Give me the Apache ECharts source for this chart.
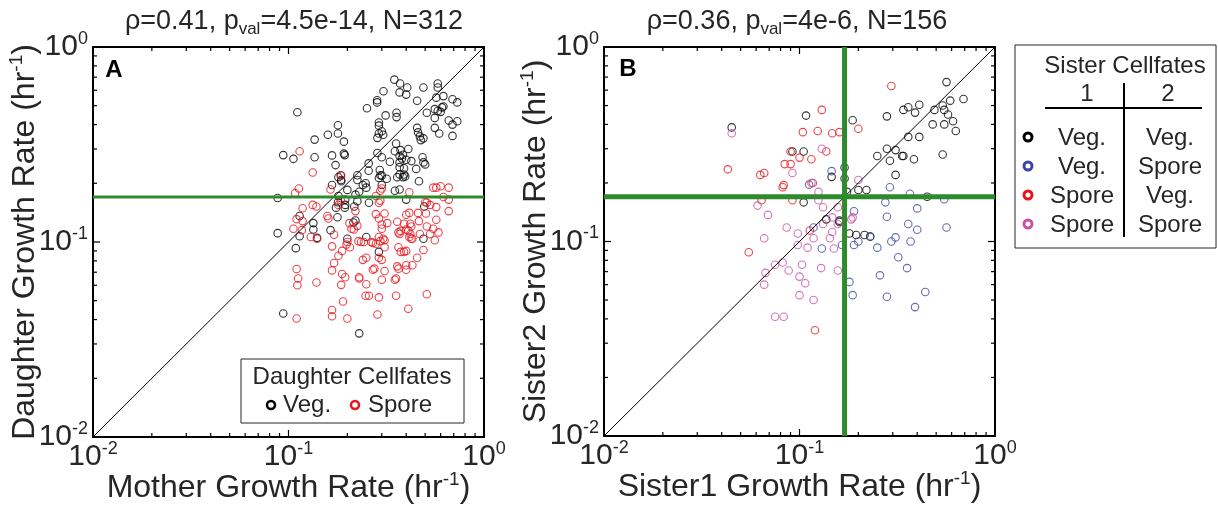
<!DOCTYPE html>
<html>
<head>
<meta charset="utf-8">
<script src="https://cdn.jsdelivr.net/npm/echarts@6/dist/echarts.min.js"></script>
<style>
  html, body { margin: 0; padding: 0; background: #fff; }
  #chart { width: 1218px; height: 507px; }
</style>
</head>
<body>
<div id="chart"></div>
<script>
// axis range (both panels, log10)
const axisMin = 0.01;
const axisMax = 1;
const tickVals = [0.01, 0.02, 0.03, 0.04, 0.05, 0.06, 0.07, 0.08, 0.09,
                  0.1, 0.2, 0.3, 0.4, 0.5, 0.6, 0.7, 0.8, 0.9, 1];

// threshold / reference lines
const thresholdA = 0.17;
const thresholdB = 0.17;
const diagonal = [[0.01, 0.01], [1, 1]];

// panel A: mother vs daughter growth rate
const daughterVeg = [
  [0.111,0.463],[0.094,0.279],[0.106,0.267],[0.136,0.335],[0.136,0.272],[0.159,0.355],[0.179,0.397],[0.179,0.36],
  [0.192,0.327],[0.167,0.278],[0.192,0.284],[0.194,0.279],[0.174,0.248],[0.088,0.168],
  [0.252,0.485],[0.284,0.533],[0.284,0.52],[0.306,0.593],[0.314,0.446],[0.357,0.46],[0.357,0.437],[0.348,0.68],
  [0.372,0.65],[0.405,0.62],[0.37,0.585],[0.40,0.57],[0.49,0.62],[0.455,0.53],[0.58,0.65],[0.58,0.62],[0.62,0.56],
  [0.57,0.55],[0.69,0.54],[0.73,0.52],[0.51,0.46],[0.56,0.48],[0.61,0.49],[0.62,0.495],[0.60,0.465],[0.58,0.47],
  [0.56,0.433],[0.66,0.42],[0.73,0.416],[0.69,0.40],[0.56,0.385],[0.59,0.36],[0.69,0.35],
  [0.29,0.41],[0.29,0.395],[0.30,0.37],[0.29,0.36],[0.285,0.342],[0.305,0.355],[0.455,0.385],[0.46,0.365],
  [0.47,0.348],[0.49,0.34],[0.475,0.333],[0.355,0.32],[0.285,0.286],[0.30,0.272],[0.35,0.292],[0.374,0.296],
  [0.41,0.30],[0.37,0.276],[0.38,0.268],[0.385,0.28],[0.40,0.264],[0.425,0.26],[0.37,0.256],[0.485,0.272],
  [0.49,0.256],[0.50,0.25],[0.33,0.258],[0.257,0.253],[0.257,0.232],[0.293,0.234],[0.318,0.211],[0.37,0.242],
  [0.39,0.239],[0.36,0.215],[0.385,0.215],[0.395,0.217],[0.45,0.237],[0.465,0.205],[0.30,0.219],[0.29,0.213],
  [0.30,0.196],[0.225,0.208],[0.186,0.208],[0.186,0.205],[0.167,0.196],[0.24,0.196],[0.25,0.19],[0.20,0.185],
  [0.23,0.181],[0.22,0.175],[0.35,0.183],[0.37,0.186],[0.40,0.165],[0.195,0.165],[0.18,0.172],[0.179,0.16],
  [0.225,0.162],[0.258,0.159],[0.217,0.152],[0.194,0.15],
  [0.088,0.111],[0.094,0.043],[0.23,0.034],[0.109,0.093],[0.114,0.136],[0.134,0.125],[0.134,0.116],[0.114,0.107],
  [0.14,0.105],[0.164,0.115],[0.178,0.134],[0.195,0.155],[0.175,0.15],[0.225,0.22],[0.22,0.129],[0.215,0.126],
  [0.20,0.104],[0.248,0.20],[0.295,0.22],[0.37,0.222],[0.39,0.222],[0.25,0.106],[0.29,0.089],[0.49,0.104],
  [0.495,0.152],[0.18,0.215],[0.185,0.22]
];
const daughterSpore = [
  [0.114,0.292],[0.133,0.227],[0.113,0.188],[0.108,0.178],[0.186,0.219],[0.164,0.186],[0.295,0.183],[0.30,0.188],
  [0.415,0.18],[0.55,0.19],[0.57,0.19],[0.60,0.193],[0.66,0.19],[0.66,0.165],[0.28,0.172],[0.18,0.155],
  [0.118,0.149],[0.133,0.155],[0.139,0.152],[0.11,0.131],[0.106,0.117],[0.118,0.128],[0.117,0.115],[0.13,0.106],
  [0.14,0.104],[0.158,0.136],[0.16,0.132],[0.185,0.164],[0.171,0.109],[0.167,0.095],[0.188,0.09],[0.18,0.085],
  [0.171,0.078],[0.167,0.0715],[0.188,0.0685],[0.195,0.066],[0.186,0.0603],[0.19,0.0495],[0.167,0.0448],
  [0.167,0.0416],[0.20,0.0405],[0.11,0.0727],[0.112,0.065],[0.111,0.06],[0.11,0.0405],[0.139,0.062],
  [0.205,0.125],[0.21,0.117],[0.216,0.116],[0.225,0.121],[0.22,0.144],[0.20,0.10],[0.206,0.094],[0.198,0.097],
  [0.228,0.101],[0.235,0.10],[0.243,0.10],[0.265,0.10],[0.27,0.099],[0.28,0.098],[0.295,0.101],[0.31,0.102],
  [0.31,0.094],[0.24,0.081],[0.25,0.083],[0.29,0.083],[0.30,0.081],[0.27,0.072],[0.275,0.073],[0.31,0.071],
  [0.23,0.066],[0.23,0.065],[0.30,0.064],[0.25,0.0607],[0.248,0.053],[0.258,0.053],[0.29,0.052],[0.285,0.0425],
  [0.35,0.064],[0.355,0.065],[0.355,0.053],[0.41,0.0455],[0.51,0.054],[0.28,0.139],[0.31,0.14],[0.32,0.125],
  [0.30,0.123],[0.29,0.132],[0.295,0.163],[0.29,0.159],[0.30,0.117],[0.29,0.106],[0.305,0.104],[0.36,0.127],
  [0.365,0.112],[0.37,0.11],[0.375,0.114],[0.41,0.114],[0.42,0.11],[0.425,0.104],[0.43,0.104],[0.415,0.106],
  [0.39,0.124],[0.40,0.116],[0.42,0.124],[0.425,0.12],[0.40,0.138],[0.415,0.141],[0.49,0.091],[0.455,0.083],
  [0.43,0.076],[0.40,0.076],[0.40,0.072],[0.365,0.073],[0.36,0.075],[0.365,0.094],[0.375,0.089],[0.39,0.089],
  [0.40,0.09],[0.465,0.128],[0.51,0.12],[0.55,0.117],[0.56,0.102],[0.585,0.112],[0.57,0.13],[0.51,0.159],
  [0.50,0.16],[0.53,0.155],[0.57,0.151],[0.505,0.14],[0.46,0.141],[0.66,0.144],[0.47,0.11],[0.53,0.11],[0.62,0.17]
];

// panel B: sister1 vs sister2 growth rate, by fate pair
const vegVeg = [
  [0.045,0.386],[0.108,0.444],[0.092,0.29],[0.105,0.29],[0.146,0.215],[0.17,0.211],[0.17,0.24],[0.187,0.42],
  [0.28,0.44],[0.34,0.475],[0.36,0.49],[0.39,0.46],[0.41,0.505],[0.49,0.475],[0.54,0.50],[0.55,0.475],[0.59,0.53],
  [0.575,0.45],[0.61,0.415],[0.63,0.37],[0.55,0.40],[0.48,0.40],[0.565,0.66],[0.69,0.54],[0.36,0.345],[0.41,0.345],
  [0.28,0.30],[0.31,0.295],[0.25,0.275],[0.335,0.275],[0.34,0.275],[0.385,0.265],[0.54,0.28],[0.29,0.26],[0.31,0.22],
  [0.20,0.184],[0.22,0.184],[0.105,0.159],[0.45,0.17],[0.137,0.13],[0.16,0.128],[0.16,0.126],[0.18,0.11],
  [0.195,0.108],[0.215,0.108],[0.23,0.106],[0.175,0.18]
];
const vegSpore = [
  [0.146,0.23],[0.112,0.196],[0.29,0.19],[0.367,0.176],[0.55,0.165],[0.275,0.159],[0.40,0.148],[0.19,0.143],
  [0.28,0.134],[0.36,0.123],[0.40,0.115],[0.565,0.118],[0.118,0.118],[0.13,0.092],[0.165,0.096],[0.19,0.096],
  [0.20,0.10],[0.23,0.106],[0.25,0.093],[0.295,0.10],[0.31,0.105],[0.37,0.10],[0.32,0.083],[0.355,0.073],
  [0.258,0.067],[0.18,0.062],[0.187,0.053],[0.28,0.052],[0.44,0.055],[0.39,0.046]
];
const sporeVeg = [
  [0.295,0.63],[0.13,0.475],[0.104,0.365],[0.124,0.37],[0.147,0.36],[0.16,0.365],[0.20,0.38],[0.09,0.29],
  [0.10,0.27],[0.115,0.265],[0.137,0.29],[0.084,0.25],[0.09,0.25],[0.043,0.235],[0.063,0.22],[0.066,0.225],
  [0.082,0.19],[0.083,0.195],[0.117,0.20],[0.064,0.163],[0.092,0.163],[0.055,0.088],[0.113,0.114],[0.12,0.035]
];
const sporeSpore = [
  [0.045,0.36],[0.13,0.30],[0.092,0.225],[0.115,0.20],[0.125,0.18],[0.125,0.163],[0.20,0.207],[0.061,0.153],
  [0.069,0.137],[0.132,0.15],[0.147,0.133],[0.157,0.15],[0.187,0.133],[0.184,0.13],[0.086,0.118],[0.098,0.11],
  [0.132,0.123],[0.147,0.112],[0.157,0.123],[0.066,0.104],[0.098,0.096],[0.11,0.093],[0.118,0.104],[0.143,0.104],
  [0.15,0.092],[0.075,0.076],[0.082,0.078],[0.088,0.071],[0.103,0.076],[0.129,0.073],[0.157,0.071],[0.067,0.069],
  [0.066,0.06],[0.10,0.066],[0.107,0.061],[0.10,0.053],[0.118,0.050],[0.075,0.041],[0.083,0.041]
];

const font = "'Liberation Sans', Arial, sans-serif";
const textColor = "#262626";
const green = "#2d8a2d";
const red = "#e8141c";
const blue = "#3c46a0";
const magenta = "#c850a8";

const chart = echarts.init(document.getElementById("chart"), null, { renderer: "canvas" });

function supRich(size, supSize, lh) {
  return {
    a: { fontSize: size, lineHeight: lh, color: textColor, fontFamily: font },
    s: { fontSize: supSize, lineHeight: supSize, verticalAlign: "top", color: textColor, fontFamily: font }
  };
}

function makeAxis(gridIndex, name, isY) {
  return {
    type: "log",
    logBase: 10,
    gridIndex: gridIndex,
    min: axisMin,
    max: axisMax,
    name: "{a|" + name + " (hr}{s|-1}{a|)}",
    nameLocation: "middle",
    nameGap: isY ? 50 : 33,
    nameMoveOverlap: false,
    nameTextStyle: { rich: supRich(32, 19, 36) },
    axisLine: { show: true, onZero: false, lineStyle: { color: "#000", width: 2 } },
    axisTick: { show: false },
    splitLine: { show: false },
    axisLabel: {
      show: true,
      margin: isY ? 5 : 3,
      showMinLabel: true,
      showMaxLabel: true,
      formatter: function (v) {
        let e = Math.round(Math.log10(v));
        return "{a|10}{s|" + e + "}";
      },
      rich: supRich(30, 18, 34)
    }
  };
}

function tickItem(params, api) {
  let v = api.value(0);
  let lg = Math.log10(v);
  let major = Math.abs(lg - Math.round(lg)) < 1e-6;
  let len = major ? 7 : 4;
  let b = api.coord([v, axisMin]);
  let t = api.coord([v, axisMax]);
  let l = api.coord([axisMin, v]);
  let r = api.coord([axisMax, v]);
  let st = { stroke: "#000", lineWidth: 1.2 };
  return {
    type: "group",
    children: [
      { type: "line", shape: { x1: b[0], y1: b[1], x2: b[0], y2: b[1] - len }, style: st },
      { type: "line", shape: { x1: t[0], y1: t[1], x2: t[0], y2: t[1] + len }, style: st },
      { type: "line", shape: { x1: l[0], y1: l[1], x2: l[0] + len, y2: l[1] }, style: st },
      { type: "line", shape: { x1: r[0], y1: r[1], x2: r[0] - len, y2: r[1] }, style: st }
    ]
  };
}

function scatter(idx, name, data, color) {
  return {
    name: name,
    type: "scatter",
    xAxisIndex: idx,
    yAxisIndex: idx,
    data: data,
    symbol: "circle",
    symbolSize: 7.5,
    itemStyle: { color: "rgba(0,0,0,0)", borderColor: color, borderWidth: 1.1 },
    z: 2,
    silent: true
  };
}

function refLine(idx, data, color, width, z) {
  return {
    type: "line",
    xAxisIndex: idx,
    yAxisIndex: idx,
    data: data,
    symbol: "none",
    lineStyle: { color: color, width: width },
    z: z,
    silent: true
  };
}

function ticks(idx) {
  return {
    type: "custom",
    xAxisIndex: idx,
    yAxisIndex: idx,
    data: tickVals.map(function (v) { return [v, v]; }),
    renderItem: tickItem,
    z: 6,
    silent: true
  };
}

function txt(x, y, text, size, opts) {
  opts = opts || {};
  return {
    type: "text",
    x: x,
    y: y,
    z: 100,
    style: {
      text: text,
      font: (opts.weight || "normal") + " " + size + "px " + font,
      fill: opts.color || textColor,
      align: opts.align || "center",
      textAlign: opts.align || "center",
      verticalAlign: "middle",
      textVerticalAlign: "middle",
      rich: opts.rich
    }
  };
}

function ring(cx, cy, color, lw) {
  return {
    type: "circle",
    z: 100,
    shape: { cx: cx, cy: cy, r: 4 },
    style: { fill: "none", stroke: color, lineWidth: lw }
  };
}

const titleRich = {
  a: { fontSize: 27, lineHeight: 32, color: textColor, fontFamily: font },
  s: { fontSize: 17, lineHeight: 17, verticalAlign: "bottom", color: textColor, fontFamily: font }
};

const option = {
  animation: false,
  backgroundColor: "#fff",
  grid: [
    { left: 93, top: 47, width: 391, height: 390, show: true, borderColor: "#000", borderWidth: 2, backgroundColor: "#fff", outerBoundsMode: "none" },
    { left: 604, top: 47, width: 391, height: 389, show: true, borderColor: "#000", borderWidth: 2, backgroundColor: "#fff", outerBoundsMode: "none" }
  ],
  xAxis: [
    makeAxis(0, "Mother Growth Rate", false),
    makeAxis(1, "Sister1 Growth Rate", false)
  ],
  yAxis: [
    makeAxis(0, "Daughter Growth Rate", true),
    makeAxis(1, "Sister2 Growth Rate", true)
  ],
  series: [
    scatter(0, "Veg.", daughterVeg, "#000"),
    scatter(0, "Spore", daughterSpore, red),
    refLine(0, diagonal, "#000", 1, 3),
    refLine(0, [[axisMin, thresholdA], [axisMax, thresholdA]], green, 3, 4),
    ticks(0),
    scatter(1, "Veg./Veg.", vegVeg, "#000"),
    scatter(1, "Veg./Spore", vegSpore, blue),
    scatter(1, "Spore/Veg.", sporeVeg, red),
    scatter(1, "Spore/Spore", sporeSpore, magenta),
    refLine(1, diagonal, "#000", 1, 3),
    refLine(1, [[axisMin, thresholdB], [axisMax, thresholdB]], green, 5, 4),
    refLine(1, [[thresholdB, axisMin], [thresholdB, axisMax]], green, 5, 4),
    ticks(1)
  ],
  graphic: [
    // titles
    txt(294, 22, "{a|ρ=0.41, p}{s|val}{a|=4.5e-14, N=312}", 27, { rich: titleRich }),
    txt(797, 22, "{a|ρ=0.36, p}{s|val}{a|=4e-6, N=156}", 27, { rich: titleRich }),
    // panel letters
    txt(114, 70, "A", 24, { weight: "bold", color: "#000" }),
    txt(628, 69, "B", 24, { weight: "bold", color: "#000" }),
    // legend A
    { type: "rect", z: 99, shape: { x: 241, y: 359, width: 223, height: 64 },
      style: { fill: "#fff", stroke: textColor, lineWidth: 1 } },
    txt(352, 377, "Daughter Cellfates", 24),
    ring(271, 405, "#000", 2.5),
    txt(283, 405, "Veg.", 24, { align: "left" }),
    ring(355, 405, red, 2.5),
    txt(368, 405, "Spore", 24, { align: "left" }),
    // legend B
    { type: "rect", z: 99, shape: { x: 1015, y: 45, width: 201, height: 203 },
      style: { fill: "#fff", stroke: textColor, lineWidth: 1 } },
    txt(1125, 66, "Sister Cellfates", 24),
    txt(1087, 94, "1", 24),
    txt(1168, 94, "2", 24),
    { type: "line", z: 100, shape: { x1: 1045, y1: 108, x2: 1202, y2: 108 }, style: { stroke: "#000", lineWidth: 2 } },
    { type: "line", z: 100, shape: { x1: 1124, y1: 83, x2: 1124, y2: 237 }, style: { stroke: "#000", lineWidth: 2 } },
    ring(1028, 137, "#000", 3),
    ring(1028, 166, blue, 3),
    ring(1028, 195, red, 3),
    ring(1028, 224, magenta, 3),
    txt(1082, 138, "Veg.", 24),
    txt(1082, 167, "Veg.", 24),
    txt(1082, 196, "Spore", 24),
    txt(1082, 225, "Spore", 24),
    txt(1170, 138, "Veg.", 24),
    txt(1170, 167, "Spore", 24),
    txt(1170, 196, "Veg.", 24),
    txt(1170, 225, "Spore", 24)
  ]
};

chart.setOption(option);
</script>
</body>
</html>
